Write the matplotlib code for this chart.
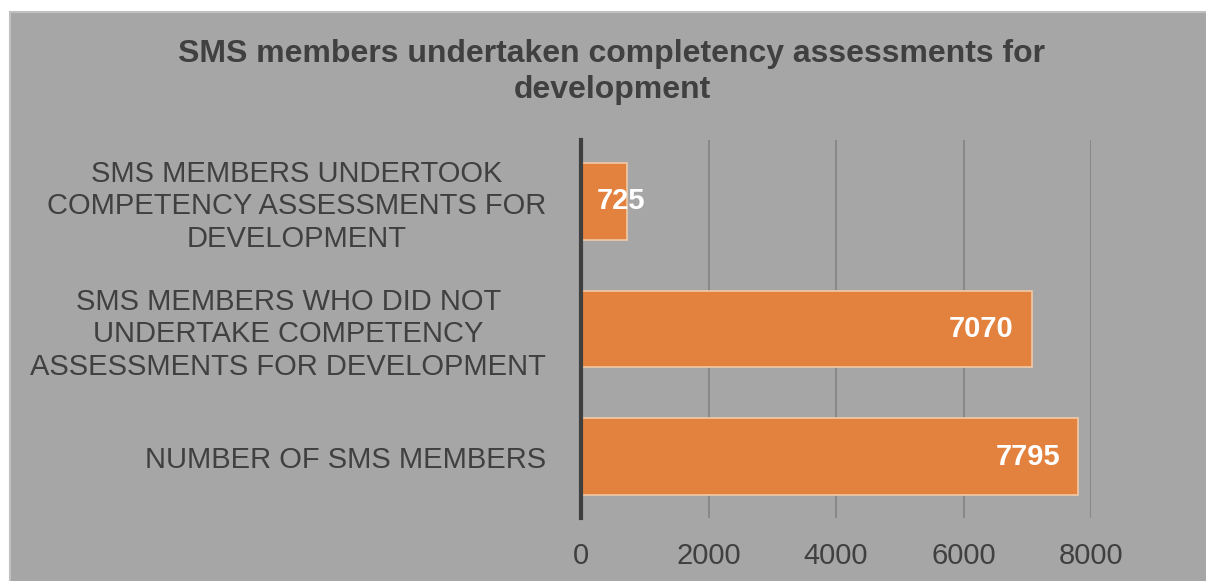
import matplotlib.pyplot as plt
from matplotlib.patches import Rectangle

plt.rcParams['font.family'] = ['Liberation Sans', 'DejaVu Sans']

categories = ["NUMBER OF SMS MEMBERS",
              "SMS MEMBERS WHO DID NOT\nUNDERTAKE COMPETENCY\nASSESSMENTS FOR DEVELOPMENT",
              "SMS MEMBERS UNDERTOOK\nCOMPETENCY ASSESSMENTS FOR\nDEVELOPMENT"]
values = [7795, 7070, 725]
xticks = [0, 2000, 4000, 6000, 8000]
title = "SMS members undertaken completency assessments for\ndevelopment"

bg = '#A6A6A6'
text_col = '#404040'
bar_col = '#E3823F'

fig = plt.figure(figsize=(12.06, 5.81), dpi=100)
fig.patch.set_facecolor('white')
fig.patches.append(Rectangle((10 / 1206, -0.05), 1.1, 1 - 12 / 581 + 0.05,
                             transform=fig.transFigure, facecolor=bg,
                             edgecolor='#C0C0C0', linewidth=1.5, zorder=-1))

ax = fig.add_axes([581 / 1206, 1 - 518 / 581, 510 / 1206, 378 / 581])
ax.set_facecolor('none')
ax.set_zorder(2)

bars = ax.barh(range(len(values)), values, height=0.6, color=bar_col,
               edgecolor='#F2C9A6', linewidth=1.2, zorder=3)
for b, v in zip(bars, values):
    yc = b.get_y() + b.get_height() / 2
    if v > 2000:
        ax.annotate(str(v), (b.get_width(), yc), xytext=(-13, 0),
                    textcoords='offset points', ha='right', va='center',
                    color='white', fontsize=21, fontweight='bold', zorder=4)
    else:
        ax.annotate(str(v), (0, yc), xytext=(11, 0),
                    textcoords='offset points', ha='left', va='center',
                    color='white', fontsize=21, fontweight='bold', zorder=4)

ax.set_xlim(0, 8000)
ax.set_ylim(-0.48, 2.48)
ax.set_xticks(xticks)
ax.set_yticks(range(len(categories)))
ax.set_yticklabels(categories, fontsize=21, color=text_col,
                   linespacing=1.2, multialignment='center')
ax.tick_params(axis='x', labelsize=21, labelcolor=text_col, length=0, pad=17)
ax.tick_params(axis='y', length=0, pad=25)
ax.xaxis.grid(True, color='#7F7F7F', linewidth=1.1, zorder=1)
ax.set_axisbelow(True)
for s in ['top', 'right', 'bottom']:
    ax.spines[s].set_visible(False)
ax.spines['left'].set_color('#3F3F3F')
ax.spines['left'].set_linewidth(3)
ax.spines['left'].set_zorder(5)

fig.text(612 / 1206, 1 - 72 / 581, title, ha='center', va='center',
         fontsize=23, fontweight='bold', color=text_col, linespacing=1.3)

fig.savefig('out.png', dpi=100)
